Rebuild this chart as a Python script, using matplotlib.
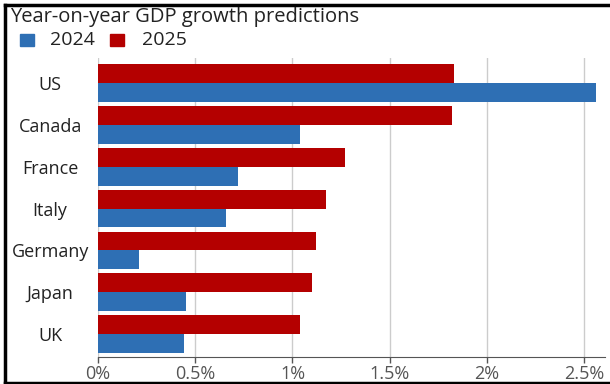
import numpy as np
import matplotlib.pyplot as plt
from matplotlib.lines import Line2D
from matplotlib.patches import Rectangle

# данные
countries = ['US', 'Canada', 'France', 'Italy', 'Germany', 'Japan', 'UK']
growth_2024 = [2.56, 1.04, 0.72, 0.66, 0.21, 0.45, 0.44]
growth_2025 = [1.83, 1.82, 1.27, 1.17, 1.12, 1.10, 1.04]
ticks = [0, 0.5, 1, 1.5, 2, 2.5]
tick_labels = ['0%', '0.5%', '1%', '1.5%', '2%', '2.5%']

red = '#b40000'
blue = '#2e6fb4'

plt.rcParams['font.family'] = ['Open Sans', 'DejaVu Sans']

fig = plt.figure(figsize=(6.1, 3.84), dpi=100)
ax = fig.add_axes([98 / 610, 27 / 384, (605 - 98) / 610, (357 - 58) / 384])

y = np.arange(len(countries))
h = 0.45
ax.barh(y - h / 2, growth_2025, height=h, color=red, zorder=3)
ax.barh(y + h / 2, growth_2024, height=h, color=blue, zorder=3)

ax.set_xlim(0, 2.607)
ax.set_ylim(6.55, -0.6)
ax.set_xticks(ticks)
ax.set_xticklabels(tick_labels, fontsize=13, color='#555555')
ax.set_yticks(y)
ax.set_yticklabels(countries, fontsize=13, color='#222222', ha='center')
ax.tick_params(axis='y', length=0, pad=34.5)
ax.tick_params(axis='x', length=4, width=1, color='#555555', pad=2)
ax.grid(axis='x', color='#cccccc', lw=1, zorder=0)
for s in ['top', 'right', 'left']:
    ax.spines[s].set_visible(False)
ax.spines['bottom'].set_color('#555555')

# заголовок и легенда
fig.text(10 / 610, 1 - 17 / 384, 'Year-on-year GDP growth predictions',
         fontsize=14.5, color='#222222', va='center', ha='left')
fig.patches.append(Rectangle((20 / 610, 1 - 46 / 384), 14 / 610, 12 / 384,
                             transform=fig.transFigure, color=blue))
fig.text(50 / 610, 1 - 40 / 384, '2024', fontsize=14, color='#222222', va='center')
fig.patches.append(Rectangle((110 / 610, 1 - 46 / 384), 14 / 610, 12 / 384,
                             transform=fig.transFigure, color=red))
fig.text(142 / 610, 1 - 40 / 384, '2025', fontsize=14, color='#222222', va='center')

# рамка (слева, сверху, снизу)
fig.lines.append(Line2D([5 / 610, 5 / 610], [0, 1 - 5 / 384], transform=fig.transFigure, color='black', lw=2.5))
fig.lines.append(Line2D([5 / 610, 1], [1 - 5 / 384, 1 - 5 / 384], transform=fig.transFigure, color='black', lw=2.5))
fig.lines.append(Line2D([5 / 610, 1], [1 / 384, 1 / 384], transform=fig.transFigure, color='black', lw=2.5))

fig.savefig('out.png', dpi=100)
